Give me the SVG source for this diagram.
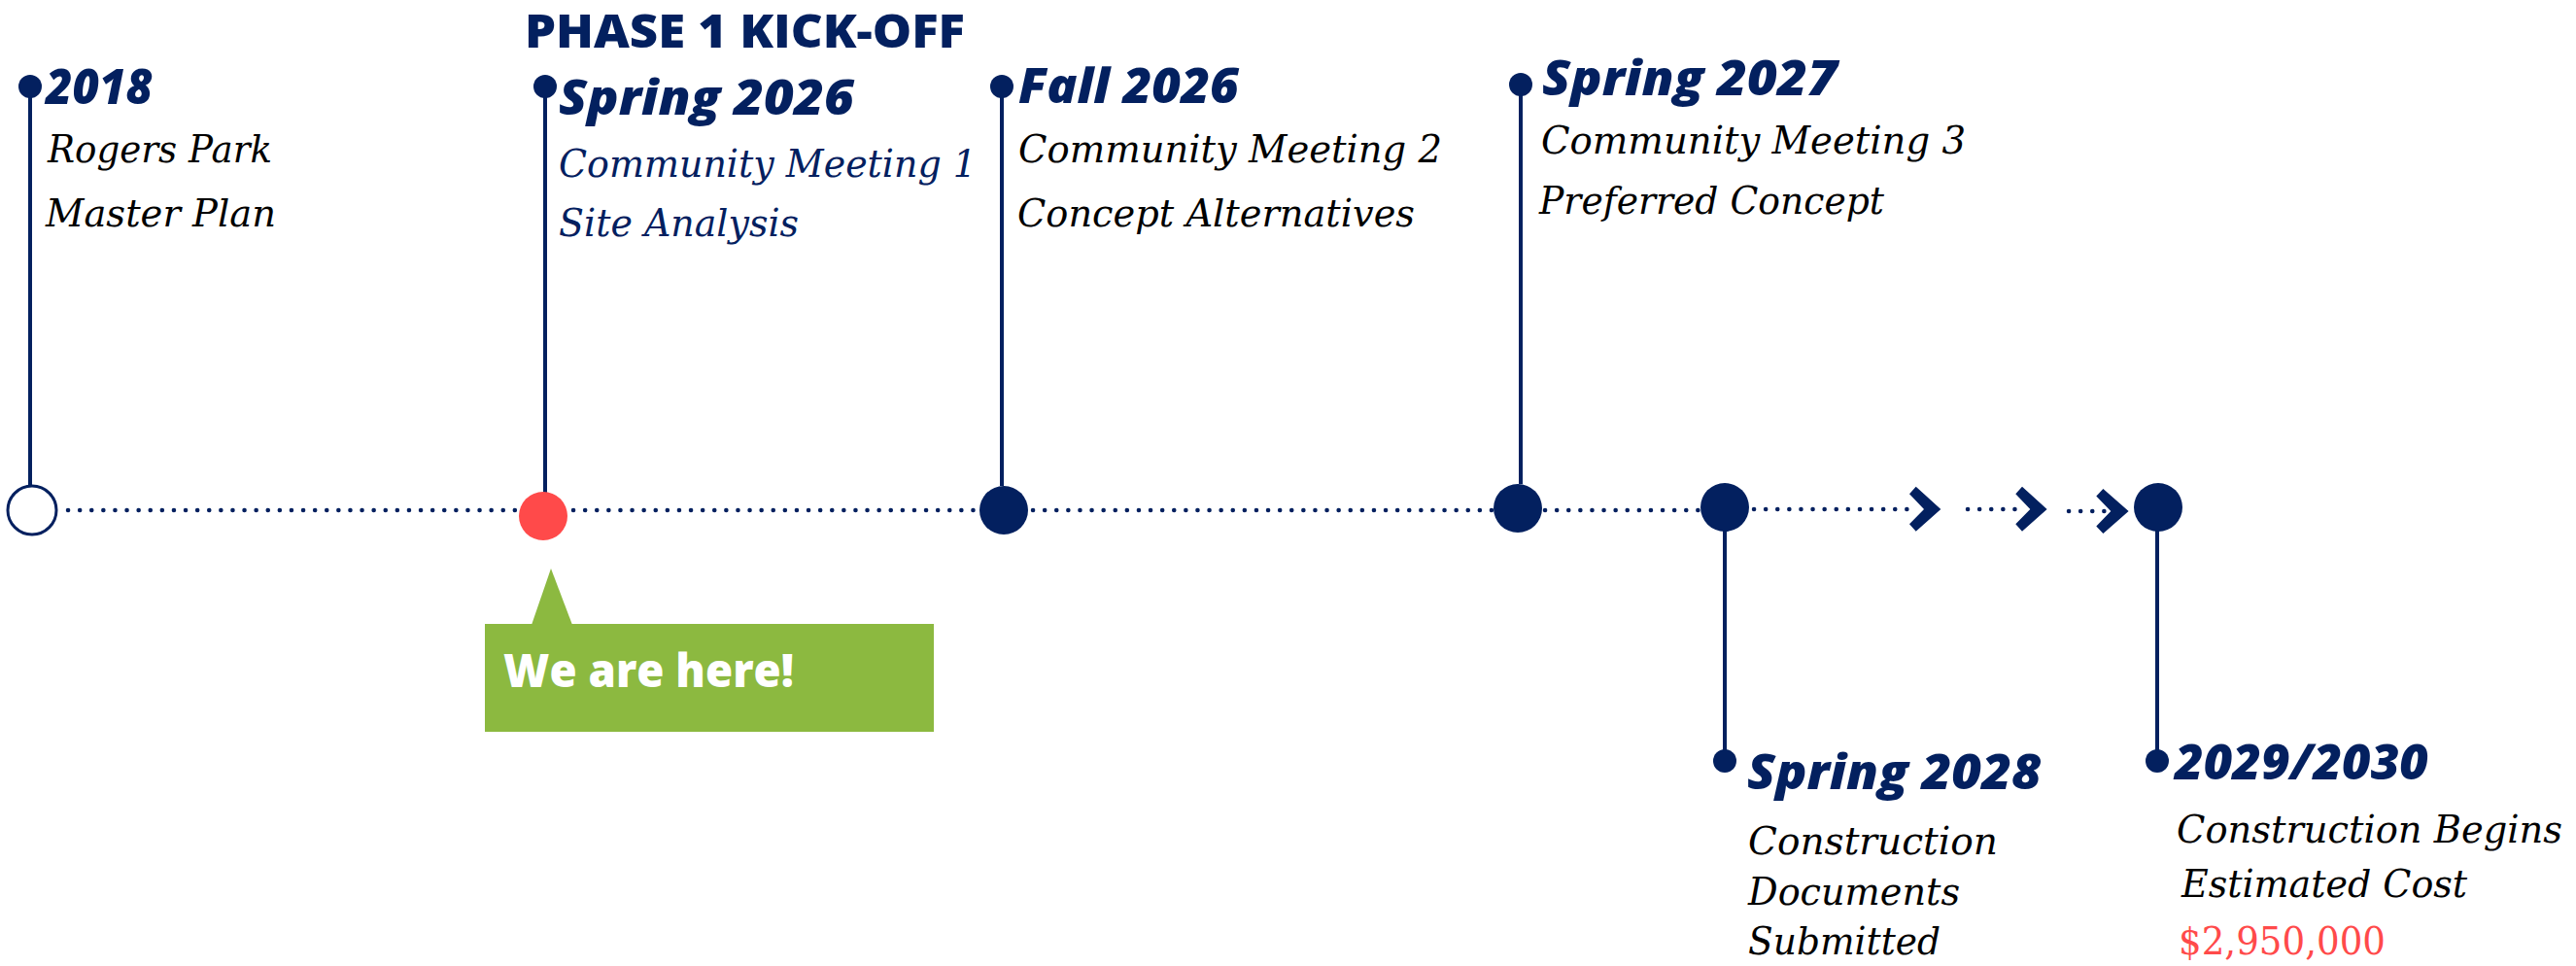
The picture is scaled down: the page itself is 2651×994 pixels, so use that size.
<svg xmlns="http://www.w3.org/2000/svg" width="2651" height="994" viewBox="0 0 2651 994">
<style>
.hd{font-family:"Open Sans","Liberation Sans",sans-serif;font-weight:800;font-style:italic;font-size:50px;fill:#03205f}
.ds{font-family:"DejaVu Serif","Liberation Serif",serif;font-style:italic;font-size:40px;fill:#000}
.st{stroke:#03205f;stroke-width:4;fill:none}
.dot{stroke:#03205f;stroke-width:4.5;stroke-linecap:round;stroke-dasharray:0.1 12;fill:none}
.nv{fill:#03205f}
</style>
<rect width="2651" height="994" fill="#fff"/>
<g id="connectors">
<line class="dot" x1="70" y1="525" x2="530" y2="525"/>
<line class="dot" x1="590" y1="525" x2="1005" y2="525"/>
<line class="dot" x1="1063" y1="525" x2="1535" y2="525"/>
<line class="dot" x1="1590" y1="525" x2="1748" y2="525"/>
<line class="dot" x1="1805" y1="524" x2="1970" y2="524"/>
<line class="dot" x1="2025" y1="524" x2="2078" y2="524"/>
<line class="dot" x1="2129" y1="526" x2="2170" y2="526"/>
<line class="st" x1="31" y1="89" x2="31" y2="500"/>
<line class="st" x1="561" y1="89" x2="561" y2="507"/>
<line class="st" x1="1031" y1="89" x2="1031" y2="500"/>
<line class="st" x1="1565" y1="87" x2="1565" y2="498"/>
<line class="st" x1="1775" y1="545" x2="1775" y2="783"/>
<line class="st" x1="2220" y1="545" x2="2220" y2="783"/>
<polygon class="nv" points="1971.7,500.7 1997.3,524 1971.7,546.7 1965,539.3 1980,524 1965,508.3"/>
<polygon class="nv" points="2081,500.7 2106.6,524 2081,546.7 2074.3,539.3 2089.3,524 2074.3,508.3"/>
<polygon class="nv" points="2164.4,503 2190.6,526 2164.4,549 2157.3,541.6 2172.3,526 2157.3,510.6"/>
</g>
<g id="title">
<text x="540" y="49" font-family="'Open Sans','Liberation Sans',sans-serif" font-weight="800" font-size="47" fill="#03205f" textLength="453" lengthAdjust="spacingAndGlyphs">PHASE 1 KICK-OFF</text>
</g>
<g id="n2018">
<circle cx="31" cy="89" r="12" class="nv"/>
<circle cx="33" cy="525" r="25" fill="#fff" stroke="#03205f" stroke-width="3"/>
<text class="hd" x="47" y="107" textLength="110" lengthAdjust="spacingAndGlyphs">2018</text>
<text class="ds" x="49" y="167" textLength="231" lengthAdjust="spacingAndGlyphs">Rogers Park</text>
<text class="ds" x="47" y="233" textLength="237" lengthAdjust="spacingAndGlyphs">Master Plan</text>
</g>
<g id="spring2026">
<circle cx="561" cy="89" r="12" class="nv"/>
<circle cx="559" cy="531" r="25" fill="#ff4a4a"/>
<text class="hd" x="575" y="118" textLength="304" lengthAdjust="spacingAndGlyphs">Spring 2026</text>
<text class="ds" x="575" y="182" style="fill:#03205f" textLength="430" lengthAdjust="spacingAndGlyphs">Community Meeting 1</text>
<text class="ds" x="575" y="243" style="fill:#03205f" textLength="247" lengthAdjust="spacingAndGlyphs">Site Analysis</text>
</g>
<g id="callout">
<polygon points="567,585 589,643 547,643" fill="#8cb940"/>
<rect x="499" y="642" width="462" height="111" fill="#8cb940"/>
<text x="518" y="707" font-family="'Open Sans','Liberation Sans',sans-serif" font-weight="800" font-size="47" fill="#fff" textLength="299" lengthAdjust="spacingAndGlyphs">We are here!</text>
</g>
<g id="fall2026">
<circle cx="1031" cy="89" r="12" class="nv"/>
<circle cx="1033" cy="525" r="25" class="nv"/>
<text class="hd" x="1048" y="106" textLength="227" lengthAdjust="spacingAndGlyphs">Fall 2026</text>
<text class="ds" x="1048" y="167" textLength="436" lengthAdjust="spacingAndGlyphs">Community Meeting 2</text>
<text class="ds" x="1047" y="233" textLength="409" lengthAdjust="spacingAndGlyphs">Concept Alternatives</text>
</g>
<g id="spring2027">
<circle cx="1565" cy="87" r="12" class="nv"/>
<circle cx="1562" cy="523" r="25" class="nv"/>
<text class="hd" x="1587" y="98" textLength="304" lengthAdjust="spacingAndGlyphs">Spring 2027</text>
<text class="ds" x="1586" y="158" textLength="437" lengthAdjust="spacingAndGlyphs">Community Meeting 3</text>
<text class="ds" x="1584" y="220" textLength="355" lengthAdjust="spacingAndGlyphs">Preferred Concept</text>
</g>
<g id="spring2028">
<circle cx="1775" cy="522" r="25" class="nv"/>
<circle cx="1775" cy="783" r="12" class="nv"/>
<text class="hd" x="1798" y="812" textLength="303" lengthAdjust="spacingAndGlyphs">Spring 2028</text>
<text class="ds" x="1799" y="879" textLength="257" lengthAdjust="spacingAndGlyphs">Construction</text>
<text class="ds" x="1799" y="931" textLength="218" lengthAdjust="spacingAndGlyphs">Documents</text>
<text class="ds" x="1799" y="982" textLength="198" lengthAdjust="spacingAndGlyphs">Submitted</text>
</g>
<g id="y2029">
<circle cx="2221" cy="522" r="25" class="nv"/>
<circle cx="2220" cy="783" r="12" class="nv"/>
<text class="hd" x="2238" y="802" textLength="261" lengthAdjust="spacingAndGlyphs">2029/2030</text>
<text class="ds" x="2240" y="867" textLength="397" lengthAdjust="spacingAndGlyphs">Construction Begins</text>
<text class="ds" x="2245" y="923" textLength="294" lengthAdjust="spacingAndGlyphs">Estimated Cost</text>
<text x="2242" y="982" font-family="'DejaVu Serif','Liberation Serif',serif" font-size="40" fill="#ff4a4a" textLength="213" lengthAdjust="spacingAndGlyphs">$2,950,000</text>
</g>
</svg>
